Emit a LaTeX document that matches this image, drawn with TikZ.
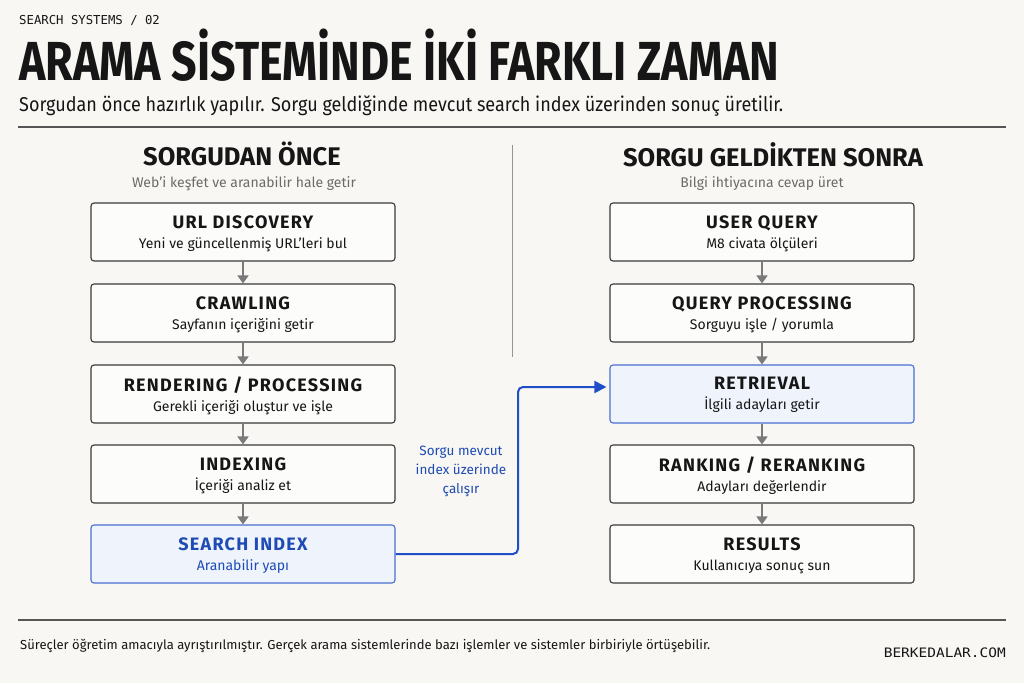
\documentclass[tikz,border=0pt]{standalone}
\usepackage{fontspec}
\usepackage{xcolor}
\setmainfont{Fira Sans}
\newfontfamily\monofont{DejaVu Sans Mono}
\newfontfamily\spacedfont[LetterSpace=7]{Fira Sans}
\usetikzlibrary{positioning,arrows.meta}

\definecolor{bgcol}{HTML}{F8F7F3}
\definecolor{inkcol}{HTML}{161616}
\definecolor{graytext}{HTML}{6B6B6B}
\definecolor{arrowgray}{HTML}{7A7A7A}
\definecolor{boxline}{HTML}{3A3A3A}
\definecolor{rulecol}{HTML}{555555}
\definecolor{bluefill}{HTML}{EEF3FC}
\definecolor{blueline}{HTML}{4A6FD0}
\definecolor{bluetext}{HTML}{1F4BB5}
\definecolor{bluearrow}{HTML}{1F4FC8}

% squeeze text to a given width, keep its height
\newcommand\fitw[2]{\resizebox{#1}{\height}{#2}}
\newcommand\boxtext[2]{{\spacedfont\bfseries\fontsize{18}{20}\selectfont #1}\\{#2}}

\tikzset{
  stepbox/.style={draw=boxline, line width=1.1pt, rounded corners=3pt, fill=white!60!bgcol,
    minimum width=304pt, minimum height=58pt, align=center, text=inkcol, text depth=0.5pt,
    font=\fontsize{14}{20}\selectfont, inner sep=0pt},
  bluebox/.style={stepbox, draw=blueline, fill=bluefill},
  flow/.style={draw=arrowgray, line width=1.6pt, -{Triangle[length=8pt,width=11pt]}},
  jump/.style={draw=bluearrow, line width=2pt, rounded corners=5pt, -{Triangle[length=12pt,width=12pt]}, shorten >=3pt},
  headline/.style={anchor=base, inner sep=0pt, text=inkcol, font=\bfseries\fontsize{25.5}{28}\selectfont},
  subline/.style={anchor=base, inner sep=0pt, text=graytext, font=\fontsize{14}{18}\selectfont}
}

\begin{document}
\begin{tikzpicture}[x=1pt,y=-1pt]
\fill[bgcol] (0,0) rectangle (1024,683);
\useasboundingbox (0,0) rectangle (1024,683);

% header
\node[anchor=base west, inner sep=0pt, text=inkcol, font=\monofont\fontsize{12.3}{14}\selectfont] (kicker) at (19,24) {SEARCH SYSTEMS / 02};
\node[anchor=base west, inner sep=0pt, text=inkcol, font=\bfseries\fontsize{55}{60}\selectfont] (title) at (19,80) {\fitw{760pt}{ARAMA SİSTEMİNDE İKİ FARKLI ZAMAN}};
\node[anchor=base west, inner sep=0pt, text=inkcol, font=\fontsize{20}{24}\selectfont] (lead) at (19,111) {\fitw{764pt}{Sorgudan önce hazırlık yapılır. Sorgu geldiğinde mevcut search index üzerinden sonuç üretilir.}};
\draw[rulecol, line width=1.5pt] (18,127) -- (1006,127);
\draw[arrowgray!80, line width=0.8pt] (512,145) -- (512,357);

% left column
\node[headline] (lefthead) at (242,165) {SORGUDAN ÖNCE};
\node[subline] (leftsub) at (244,187) {Web'i keşfet ve aranabilir hale getir};
\node[stepbox] (discovery) at (243,232) {\boxtext{URL DISCOVERY}{Yeni ve güncellenmiş URL'leri bul}};
\node[stepbox] (crawl) at (243,313) {\boxtext{CRAWLING}{Sayfanın içeriğini getir}};
\node[stepbox] (render) at (243,394) {\boxtext{RENDERING / PROCESSING}{Gerekli içeriği oluştur ve işle}};
\node[stepbox] (indexing) at (243,474) {\boxtext{INDEXING}{İçeriği analiz et}};
\node[bluebox, text=bluetext] (sindex) at (243,554) {\boxtext{SEARCH INDEX}{Aranabilir yapı}};

\draw[flow] (discovery) -- (crawl);
\draw[flow] (crawl) -- (render);
\draw[flow] (render) -- (indexing);
\draw[flow] (indexing) -- (sindex);

% right column
\node[headline] (righthead) at (773,166) {SORGU GELDİKTEN SONRA};
\node[subline] (rightsub) at (762,187) {Bilgi ihtiyacına cevap üret};
\node[stepbox] (query) at (762,232) {\boxtext{USER QUERY}{M8 civata ölçüleri}};
\node[stepbox] (qproc) at (762,313) {\boxtext{QUERY PROCESSING}{Sorguyu işle / yorumla}};
\node[bluebox] (retrieval) at (762,394) {\boxtext{RETRIEVAL}{İlgili adayları getir}};
\node[stepbox] (ranking) at (762,474) {\boxtext{RANKING / RERANKING}{Adayları değerlendir}};
\node[stepbox] (results) at (762,554) {\boxtext{RESULTS}{Kullanıcıya sonuç sun}};

\draw[flow] (query) -- (qproc);
\draw[flow] (qproc) -- (retrieval);
\draw[flow] (retrieval) -- (ranking);
\draw[flow] (ranking) -- (results);

% query hits the index
\coordinate (bend) at (518,470);
\coordinate (hit) at ([yshift=7pt]retrieval.west);
\draw[jump] (sindex.east) -- (bend |- sindex.east) -- (bend |- hit) -- (hit);
\node[align=center, text=bluetext, font=\fontsize{13.5}{19}\selectfont] (jumplabel) at (461,471) {Sorgu mevcut\\index üzerinde\\çalışır};

% footer
\draw[rulecol, line width=1.5pt] (18,620) -- (1006,620);
\node[anchor=base west, inner sep=0pt, text=inkcol, font=\fontsize{13}{16}\selectfont] (note) at (20,649) {\fitw{690pt}{Süreçler öğretim amacıyla ayrıştırılmıştır. Gerçek arama sistemlerinde bazı işlemler ve sistemler birbiriyle örtüşebilir.}};
\node[anchor=base east, inner sep=0pt, text=inkcol, font=\monofont\fontsize{13}{16}\selectfont] (site) at (1006,657) {\fitw{122pt}{BERKEDALAR.COM}};
\end{tikzpicture}
\end{document}
